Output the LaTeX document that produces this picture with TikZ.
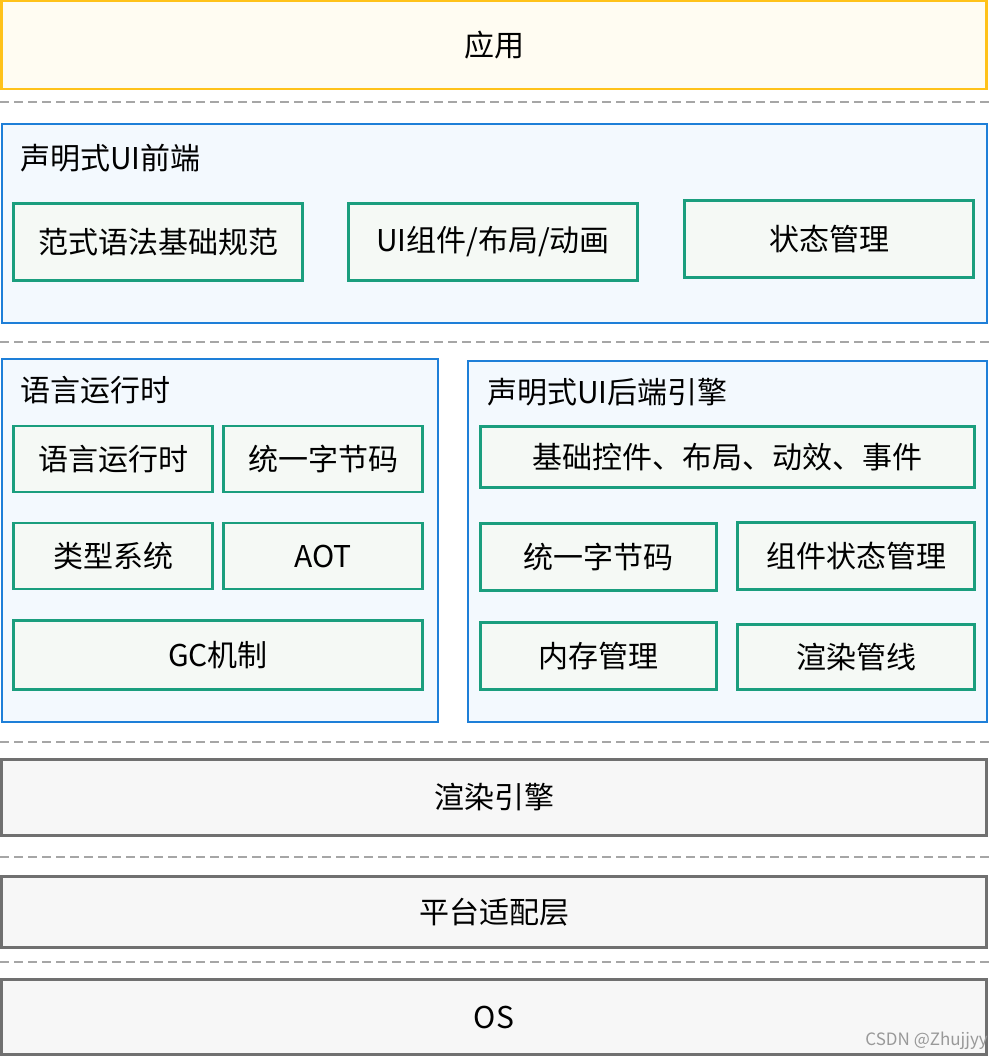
\documentclass[tikz,border=0pt]{standalone}
\usepackage{fontspec}
\setmainfont{Noto Sans CJK SC}

\definecolor{appline}{HTML}{FFC21A}
\definecolor{appfill}{HTML}{FFFCF2}
\definecolor{blueline}{HTML}{1E7FD8}
\definecolor{bluefill}{HTML}{F3F9FE}
\definecolor{greenline}{HTML}{1A9E7E}
\definecolor{greenfill}{HTML}{F5F9F5}
\definecolor{grayline}{HTML}{707070}
\definecolor{grayfill}{HTML}{F7F7F7}

\begin{document}
\begin{tikzpicture}[x=1pt, y=-1pt,
  every node/.style = {inner sep=0pt, font=\fontsize{30}{34}\selectfont},
  AppBox/.style     = {draw=appline, fill=appfill, line width=2.5pt},
  GroupBox/.style   = {draw=blueline, fill=bluefill, line width=2pt},
  ItemBox/.style    = {draw=greenline, fill=greenfill, line width=2.5pt},
  BaseBox/.style    = {draw=grayline, fill=grayfill, line width=2.5pt},
  Title/.style      = {anchor=west},
  Sep/.style        = {draw=gray!70, dashed, dash pattern=on 9pt off 5pt, line width=1.5pt}]

\useasboundingbox (0,0) rectangle (989,1057);

% layers
\node[AppBox, minimum width=985, minimum height=88] (app) at (494,45) {应用};

\node[GroupBox, minimum width=985, minimum height=199] (front) at (494,223) {};
\node[Title] (fronttitle) at (20,158) {声明式UI前端};
\node[ItemBox, minimum width=289, minimum height=77] (paradigm) at (158,242) {范式语法基础规范};
\node[ItemBox, minimum width=289, minimum height=77] (widget) at (493,242) {UI组件/布局/动画};
\node[ItemBox, minimum width=289, minimum height=77] (state) at (829,239) {状态管理};

\node[GroupBox, minimum width=436, minimum height=363] (runtime) at (219.5,540) {};
\node[Title] (runtimetitle) at (20,390) {语言运行时};
\node[ItemBox, minimum width=199, minimum height=66] (lang) at (113,459) {语言运行时};
\node[ItemBox, minimum width=199, minimum height=66] (bytecode) at (323,459) {统一字节码};
\node[ItemBox, minimum width=199, minimum height=66] (types) at (113,556) {类型系统};
\node[ItemBox, minimum width=199, minimum height=66] (aot) at (323,556) {AOT};
\node[ItemBox, minimum width=409, minimum height=69] (gc) at (218,655) {GC机制};

\node[GroupBox, minimum width=519, minimum height=361] (backend) at (727,541) {};
\node[Title] (backendtitle) at (487,392) {声明式UI后端引擎};
\node[ItemBox, minimum width=494, minimum height=61] (controls) at (727.5,457) {基础控件、布局、动效、事件};
\node[ItemBox, minimum width=236, minimum height=67] (bebytecode) at (598.5,557) {统一字节码};
\node[ItemBox, minimum width=237, minimum height=67] (compstate) at (856,556) {组件状态管理};
\node[ItemBox, minimum width=236, minimum height=67] (memory) at (598.5,656) {内存管理};
\node[ItemBox, minimum width=237, minimum height=65] (pipeline) at (856,657) {渲染管线};

\node[BaseBox, minimum width=985, minimum height=76] (render) at (494,797.5) {渲染引擎};
\node[BaseBox, minimum width=985, minimum height=71] (adapter) at (494,912) {平台适配层};
\node[BaseBox, minimum width=985, minimum height=75] (os) at (494,1017) {OS};

% separators
\foreach \y in {102,342,742,857,962}
  \draw[Sep] (0,\y) -- (989,\y);

\node[anchor=south east, text=gray!80, font=\fontsize{17}{19}\selectfont] (mark) at (988,1050) {CSDN @Zhujjyy};

\end{tikzpicture}
\end{document}
